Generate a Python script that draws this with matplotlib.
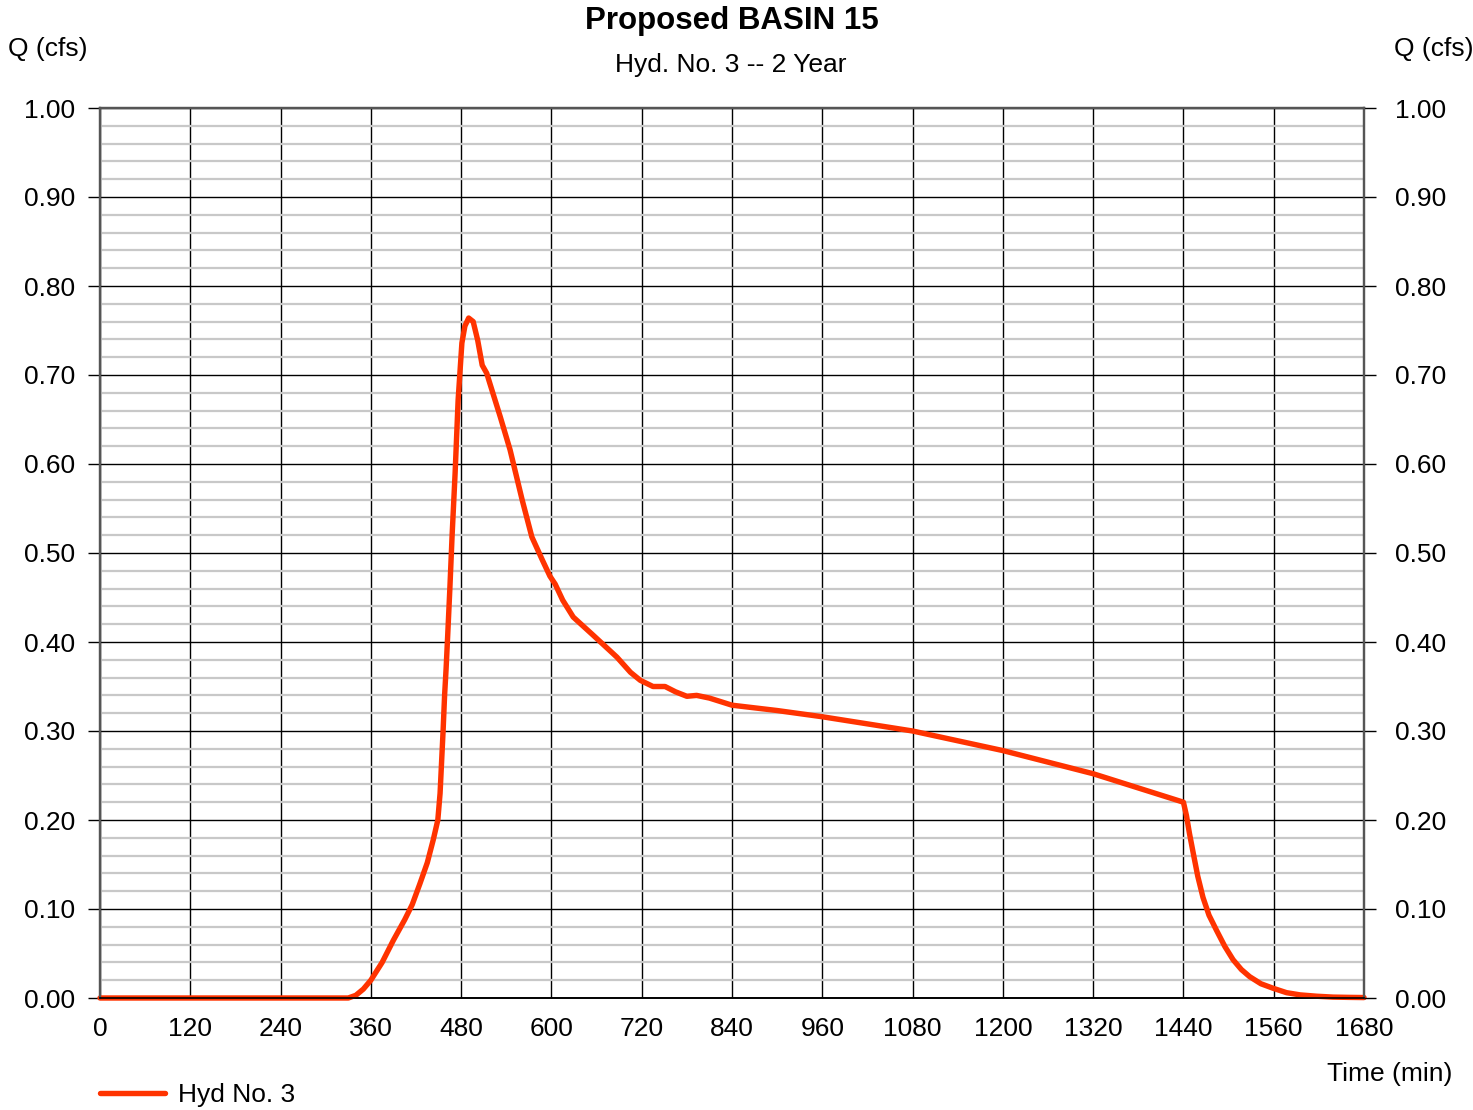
import numpy as np
import matplotlib.pyplot as plt
from matplotlib.ticker import MultipleLocator

plt.rcParams['font.family'] = ['Liberation Sans', 'DejaVu Sans']

# hydrograph ordinates, time (min) vs flow (cfs)
time_min = [0, 330, 340, 350, 360, 375, 390, 405, 415, 425, 435, 443, 449,
            452, 454, 456, 458, 460, 462, 465, 468, 472, 476, 481, 485, 490,
            496, 502, 508, 514, 518, 532, 545, 561, 574, 588, 598, 605, 615,
            629, 655, 687, 705, 718, 735, 751, 765, 780, 793, 810, 840, 900,
            960, 1080, 1200, 1320, 1440, 1444, 1448, 1453, 1459, 1466, 1474,
            1484, 1495, 1506, 1517, 1528, 1543, 1559, 1577, 1595, 1617, 1639,
            1660, 1680]
flow_cfs = [0.0, 0.0, 0.003, 0.010, 0.020, 0.040, 0.065, 0.088, 0.105, 0.128,
            0.152, 0.178, 0.200, 0.230, 0.265, 0.300, 0.340, 0.370, 0.405,
            0.460, 0.520, 0.590, 0.672, 0.736, 0.755, 0.764, 0.760, 0.739,
            0.711, 0.702, 0.691, 0.653, 0.616, 0.560, 0.518, 0.492, 0.474,
            0.465, 0.447, 0.428, 0.408, 0.383, 0.366, 0.357, 0.350, 0.350,
            0.344, 0.339, 0.340, 0.337, 0.329, 0.323, 0.316, 0.300, 0.278,
            0.252, 0.220, 0.205, 0.185, 0.163, 0.137, 0.113, 0.093, 0.076,
            0.058, 0.043, 0.032, 0.024, 0.016, 0.011, 0.006, 0.0035, 0.002,
            0.001, 0.0007, 0.0005]

x_ticks = np.arange(0, 1681, 120)
y_ticks = np.arange(0, 1.001, 0.1)
y_labels = [f"{v:.2f}" for v in y_ticks]

fig = plt.figure(figsize=(14.73, 11.10), dpi=100)
ax = fig.add_axes([100 / 1473, 1 - 998 / 1110, 1264 / 1473, 890 / 1110])

ax.set_xlim(0, 1680)
ax.set_ylim(0, 1.0)
ax.set_xticks(x_ticks)
ax.set_yticks(y_ticks)
ax.set_yticklabels(y_labels)
ax.yaxis.set_minor_locator(MultipleLocator(0.02))

ax.grid(which='minor', axis='y', color='#c8c8c8', lw=1.6, zorder=0)
ax.grid(which='major', axis='both', color='black', lw=1.0, zorder=1)

ax.tick_params(axis='y', which='major', length=8.6, width=1.0, labelsize=19,
               left=True, right=False, pad=9.4)
ax.tick_params(axis='y', which='minor', length=0)
ax.tick_params(axis='x', which='major', length=0, labelsize=19, pad=14)

# right-hand flow scale
ax2 = ax.twinx()
ax2.set_ylim(0, 1.0)
ax2.set_yticks(y_ticks)
ax2.set_yticklabels(y_labels)
ax2.tick_params(axis='y', length=8.6, width=1.0, labelsize=19, pad=13.5)

for a in (ax, ax2):
    for side in ['left', 'right', 'top']:
        a.spines[side].set_color('#555555')
        a.spines[side].set_linewidth(1.6)
    a.spines['bottom'].set_color('black')
    a.spines['bottom'].set_linewidth(1.2)

line, = ax.plot(time_min, flow_cfs, color='#ff3300', lw=3.9, solid_capstyle='round',
                solid_joinstyle='round', zorder=3, clip_on=False, label='Hyd No. 3')

fig.text(732 / 1473, 1 - 21 / 1110, 'Proposed BASIN 15', ha='center', va='center',
         fontsize=22.5, fontweight='bold')
fig.text(731 / 1473, 1 - 65 / 1110, 'Hyd. No. 3 -- 2 Year', ha='center', va='center',
         fontsize=19)
fig.text(8 / 1473, 1 - 49 / 1110, 'Q (cfs)', ha='left', va='center', fontsize=19)
fig.text(1473 / 1473, 1 - 49 / 1110, 'Q (cfs)', ha='right', va='center', fontsize=19)
fig.text(1452 / 1473, 1 - 1074 / 1110, 'Time (min)', ha='right', va='center', fontsize=19)

fig.legend(handles=[line], loc='upper left', bbox_to_anchor=(100 / 1473, 1 - 1083 / 1110),
           frameon=False, fontsize=19, handlelength=2.46, handletextpad=0.5,
           borderpad=0, borderaxespad=0)

fig.savefig('out.png', dpi=100)
